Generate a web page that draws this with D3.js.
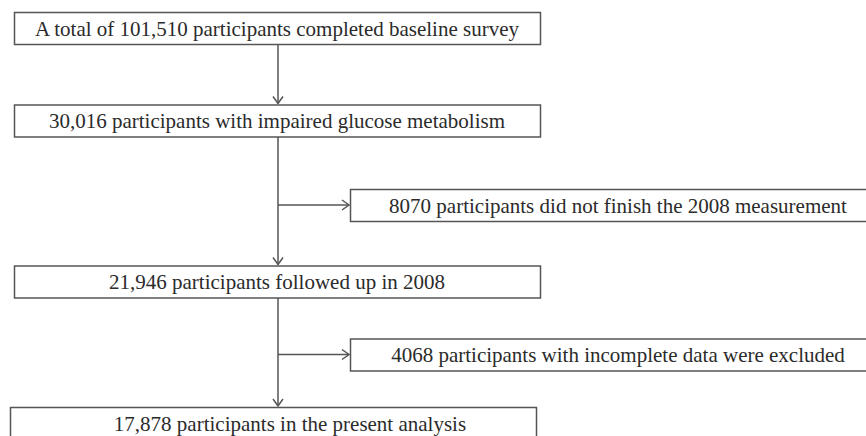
<!DOCTYPE html>
<html>
<head>
<meta charset="utf-8">
<script src="https://cdn.jsdelivr.net/npm/d3@7/dist/d3.min.js"></script>
<style>
  body { margin: 0; background: #fff; }
  svg { display: block; }
</style>
</head>
<body>
<svg id="canvas"></svg>
<script>
// Flow chart content
const mainSteps = [
  "A total of 101,510 participants completed baseline survey",
  "30,016 participants with impaired glucose metabolism",
  "21,946 participants followed up in 2008",
  "17,878 participants in the present analysis"
];
const exclusions = [
  "8070 participants did not finish the 2008 measurement",
  "4068 participants with incomplete data were excluded"
];

const svgWidth = 866;
const svgHeight = 436;
const boxH = 32;
const lineColor = "#555";
const textColor = "#2b2b2b";

// Layout of the rows (centre of each box, top to bottom)
const rowScale = d3.scaleOrdinal()
  .domain(["m0", "m1", "x0", "m2", "x1", "m3"])
  .range([28, 120.5, 205, 281.5, 354.5, 423]);

const mainX = d3.scaleLinear().domain([0, 1]).range([14, 540]);
const sideX = d3.scaleLinear().domain([0, 1]).range([350, 886]);
const spineX = 278;

const svg = d3.select("#canvas").attr("width", svgWidth).attr("height", svgHeight);

const drawBox = (x0, x1, yc, label, dx) => {
  svg.append("rect")
     .attr("x", x0 + 0.5).attr("y", yc - boxH / 2 + 0.5)
     .attr("width", x1 - x0).attr("height", boxH)
     .attr("fill", "#fff").attr("stroke", lineColor).attr("stroke-width", 1.5);
  svg.append("text")
     .attr("x", (x0 + x1) / 2 + (dx || 0)).attr("y", yc + 7.5)
     .attr("text-anchor", "middle")
     .style("font-family", "'Liberation Serif', 'DejaVu Serif', serif")
     .style("font-size", "21px")
     .attr("fill", textColor)
     .text(label);
};

const arrowHead = (x, y, dir) => {
  // open V arrowhead, tip at (x, y)
  const p = dir === "down"
    ? [[x - 5, y - 7], [x, y], [x + 5, y - 7]]
    : [[x - 7, y - 5], [x, y], [x - 7, y + 5]];
  svg.append("path").attr("d", d3.line()(p))
     .attr("fill", "none").attr("stroke", lineColor).attr("stroke-width", 1.5);
};

// Vertical spine arrows between main steps
mainSteps.forEach((d, i) => {
  if (i === mainSteps.length - 1) return;
  const y0 = rowScale("m" + i) + boxH / 2;
  const y1 = rowScale("m" + (i + 1)) - boxH / 2 - 1;
  svg.append("line").attr("x1", spineX).attr("x2", spineX).attr("y1", y0).attr("y2", y1)
     .attr("stroke", lineColor).attr("stroke-width", 1.5);
  arrowHead(spineX, y1, "down");
});

// Side arrows to exclusion boxes
exclusions.forEach((d, i) => {
  const y = rowScale("x" + i);
  svg.append("line").attr("x1", spineX).attr("x2", sideX(0) - 1).attr("y1", y).attr("y2", y)
     .attr("stroke", lineColor).attr("stroke-width", 1.5);
  arrowHead(sideX(0) - 1, y, "right");
});

// Boxes
mainSteps.forEach((d, i) => {
  const last = i === mainSteps.length - 1;
  drawBox(mainX(0) - (last ? 4 : 0), mainX(1) - (last ? 4 : 0), rowScale("m" + i), d, last ? 17 : 0);
});
exclusions.forEach((d, i) => {
  drawBox(sideX(0), sideX(1), rowScale("x" + i), d);
});
</script>
</body>
</html>
